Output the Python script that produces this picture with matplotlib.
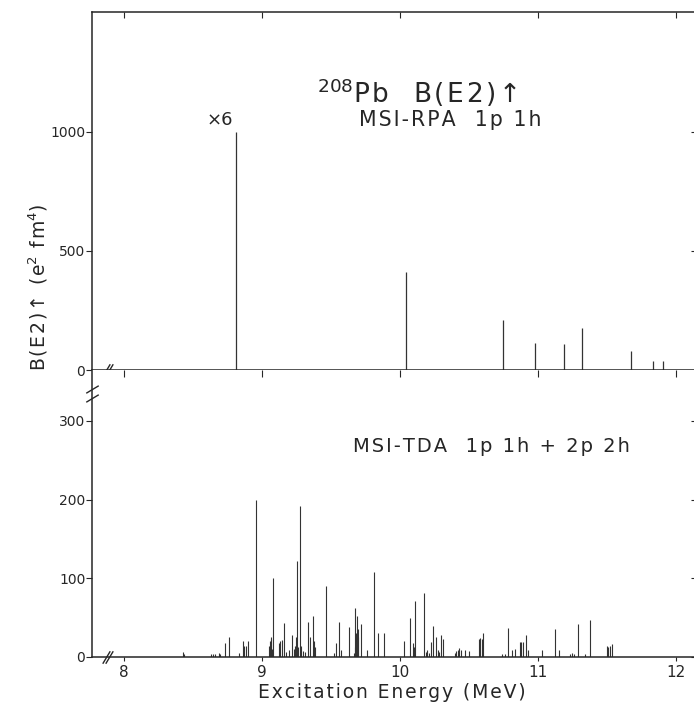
import matplotlib
matplotlib.use("Agg")
import matplotlib.pyplot as plt
import matplotlib.transforms as mtransforms

# MSI-RPA 1p1h strengths (first level drawn x6)
rpa_energy = [8.814, 10.043, 10.75, 10.98, 11.19, 11.317, 11.676, 11.836, 11.906]
rpa_b2 = [1000, 410, 210, 112, 109, 178, 80, 39, 39]

# MSI-TDA 1p1h + 2p2h strengths
tda_energy = [8.43, 8.435, 8.63, 8.645, 8.66, 8.69, 8.70, 8.735, 8.763, 8.838,
              8.862, 8.874, 8.884, 8.90, 8.959, 9.055, 9.06, 9.065, 9.07, 9.075,
              9.08, 9.125, 9.135, 9.145, 9.16, 9.175, 9.195, 9.217, 9.23, 9.24,
              9.248, 9.258, 9.265, 9.277, 9.285, 9.30, 9.31, 9.333, 9.35, 9.369,
              9.379, 9.385, 9.463, 9.52, 9.536, 9.557, 9.574, 9.63, 9.665, 9.672,
              9.678, 9.683, 9.688, 9.695, 9.70, 9.719, 9.763, 9.81, 9.845, 9.888,
              10.028, 10.074, 10.095, 10.10, 10.11, 10.173, 10.19, 10.20, 10.21, 10.226,
              10.243, 10.262, 10.275, 10.28, 10.296, 10.315, 10.40, 10.41, 10.42, 10.43,
              10.44, 10.47, 10.50, 10.57, 10.58, 10.593, 10.605, 10.74, 10.76, 10.786,
              10.81, 10.835, 10.87, 10.88, 10.895, 10.914, 10.93, 11.03, 11.126, 11.155,
              11.23, 11.245, 11.26, 11.288, 11.34, 11.377, 11.497, 11.505, 11.52, 11.539]
tda_b2 = [6, 4, 3, 4, 3, 5, 3, 18, 25, 5,
          20, 13, 14, 20, 200, 14, 20, 25, 22, 10,
          100, 18, 20, 21, 43, 6, 8, 28, 10, 14,
          25, 122, 12, 192, 14, 7, 6, 44, 25, 52,
          20, 12, 90, 5, 17, 44, 8, 38, 5, 12,
          62, 30, 52, 35, 25, 41, 8, 108, 30, 30,
          20, 49, 18, 12, 71, 81, 6, 8, 5, 19,
          39, 25, 8, 6, 28, 22, 5, 7, 9, 11,
          8, 8, 7, 22, 24, 22, 30, 3, 4, 37,
          9, 10, 19, 19, 19, 28, 8, 8, 35, 9,
          4, 5, 4, 41, 4, 47, 14, 12, 13, 16]

xticks = [8, 9, 10, 11, 12]
rpa_yticks = [0, 500, 1000]
tda_yticks = [0, 100, 200, 300]

ink = "#262626"
plt.rcParams["font.family"] = "DejaVu Sans"
plt.rcParams["axes.edgecolor"] = ink
plt.rcParams["xtick.color"] = ink
plt.rcParams["ytick.color"] = ink
plt.rcParams["text.color"] = ink


def spaced(s):
    # wide plotter-style lettering
    return "\u200a".join(s)


fig = plt.figure(figsize=(6.94, 7.11), dpi=100)
ax1 = fig.add_axes([0.133, 0.4796, 0.8728, 0.5035])
ax2 = fig.add_axes([0.133, 0.0764, 0.8728, 0.4032])

ax1.vlines(rpa_energy, 0, rpa_b2, color="#333333", lw=0.9)
ax2.vlines(tda_energy, 0, tda_b2, color="#333333", lw=0.8)

for ax in (ax1, ax2):
    ax.set_xlim(7.773, 12.159)
    for s in ax.spines.values():
        s.set_linewidth(1.1)
ax1.set_ylim(0, 1504)
ax2.set_ylim(0, 364.8)
ax2.spines["top"].set_visible(False)

# upper panel: ticks on top edge only, pointing down
ax1.set_xticks(xticks)
ax1.tick_params(axis="x", top=True, bottom=False, direction="in", length=4,
                labelbottom=False, labeltop=False)
ax1.set_yticks(rpa_yticks)
ax1.tick_params(axis="y", direction="out", length=4, pad=1, labelsize=10)

# lower panel
ax2.set_xticks(xticks)
ax2.tick_params(axis="x", direction="out", length=3, pad=3, labelsize=11)
ax2.set_yticks(tda_yticks)
ax2.set_yticklabels(["0", "100", "200", "300"])
ax2.tick_params(axis="y", direction="out", length=4, pad=1, labelsize=10)

# ticks hanging below the shared middle line
mid = ax2.secondary_xaxis("top")
mid.set_xticks(xticks)
mid.tick_params(direction="in", length=5, labeltop=False)
mid.spines["top"].set_visible(False)

for ax, ticks in ((ax1, rpa_yticks), (ax2, tda_yticks)):
    ax.tick_params(axis="y", right=False)
    r = ax.secondary_yaxis("right")
    r.set_yticks(ticks)
    r.tick_params(direction="in", length=5, labelright=False)

# axis break marks
for ax in (ax1, ax2):
    tr = mtransforms.blended_transform_factory(ax.transData, ax.transAxes)
    ax.plot([7.870, 7.896], [0, 0], transform=tr, linestyle="none",
            marker=[(-0.6, -1), (0.6, 1)], markersize=9, markeredgewidth=1.0,
            markerfacecolor="none", markeredgecolor=ink, clip_on=False)
tr = mtransforms.blended_transform_factory(ax2.transAxes, ax2.transData)
ax2.plot([0, 0], [329, 341], transform=tr, linestyle="none",
         marker=[(-1, -0.6), (1, 0.6)], markersize=9, markeredgewidth=1.0,
         markerfacecolor="none", markeredgecolor=ink, clip_on=False)

ax1.text(10.125, 1164, r"$^{208}$" + spaced("Pb  B(E2)↑"), fontsize=19,
         ha="center", va="center")
ax1.text(8.79, 1050, "×6", fontsize=13, ha="right", va="center")
ax1.text(10.366, 1050, spaced("MSI-RPA  1p 1h"), fontsize=14.8,
         ha="center", va="center")
ax2.text(10.661, 268, spaced("MSI-TDA  1p 1h + 2p 2h"), fontsize=14,
         ha="center", va="center")

fig.text(38 / 694, 1 - 287 / 711, spaced("B(E2)↑ (e") + r"$^2$" + spaced(" fm") + r"$^4$)",
         rotation=90, fontsize=13.5, ha="center", va="center")
fig.text(392 / 694, 1 - 692 / 711, spaced("Excitation Energy (MeV)"), fontsize=13.5,
         ha="center", va="center")

fig.savefig("out.png", dpi=100)
